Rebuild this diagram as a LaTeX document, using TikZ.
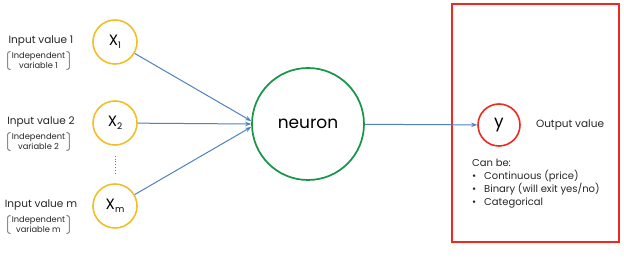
\documentclass[tikz,border=0pt]{standalone}
\usepackage{fontspec}
\setmainfont{Poppins}
\usetikzlibrary{positioning,arrows.meta}
\definecolor{inyellow}{RGB}{241,190,40}
\definecolor{linkblue}{RGB}{79,129,189}
\definecolor{neurongreen}{RGB}{20,150,70}
\definecolor{outred}{RGB}{240,40,30}
\begin{document}
\begin{tikzpicture}[x=1pt,y=-1pt,
  innode/.style={circle,draw=inyellow,line width=1.6pt,minimum size=44pt,inner sep=0pt,font=\fontsize{15}{15}\selectfont},
  link/.style={linkblue,line width=1pt,-{Stealth[length=6pt,width=4.5pt]}},
  lbl/.style={font=\fontsize{10.5}{12}\selectfont,text=black!85,inner sep=1pt},
  sublbl/.style={font=\fontsize{8.3}{10}\selectfont,align=center,text=black!85,inner xsep=4pt,inner ysep=0.5pt},
  brk/.style={black!45,line width=1pt,rounded corners=1.5pt}]
\useasboundingbox (0,0) rectangle (624,280);
% inputs
\foreach \i/\yy/\sub in {1/42/1, 2/123/2, 3/206/m} {
  \node[innode] (x\i) at (115,\yy) {X\raisebox{-2.5pt}{\fontsize{9}{9}\selectfont\sub}};
  \node[lbl] (in\i) at (41,\yy-1) {Input value \sub};
  \node[sublbl] (ind\i) at (38.5,\yy+18.5) {Independent\\variable \sub};
  \draw[brk] ([xshift=3pt]ind\i.north west) -- (ind\i.north west) -- (ind\i.south west) -- ([xshift=3pt]ind\i.south west);
  \draw[brk] ([xshift=-3pt]ind\i.north east) -- (ind\i.north east) -- (ind\i.south east) -- ([xshift=-3pt]ind\i.south east);
}
\draw[black!55,dotted,line width=0.8pt,shorten <=10pt,shorten >=9pt] (x2.south) -- (x3.north);
% neuron
\node[circle,draw=neurongreen,line width=1.7pt,minimum size=112pt,font=\fontsize{17}{17}\selectfont] (neuron) at (308,124) {neuron};
\draw[link] (x1) -- (neuron.177);
\draw[link] (x2) -- (neuron.west);
\draw[link] (x3) -- (neuron.183);
% output
\draw[outred,line width=1.6pt] (452,4) rectangle (619,242);
\node[circle,draw=outred,line width=1.6pt,minimum size=42pt,font=\fontsize{17}{17}\selectfont] (y) at (499,125) {y};
\node[lbl,right=14pt of y] (outlbl) {Output value};
\draw[link] (neuron) -- (y);
\node[lbl,align=left,anchor=north west,font=\fontsize{10}{13}\selectfont] (canbe) at (471,158) {Can be:\\
  \makebox[12pt][l]{\textbullet}Continuous (price)\\
  \makebox[12pt][l]{\textbullet}Binary (will exit yes/no)\\
  \makebox[12pt][l]{\textbullet}Categorical};
\end{tikzpicture}
\end{document}
